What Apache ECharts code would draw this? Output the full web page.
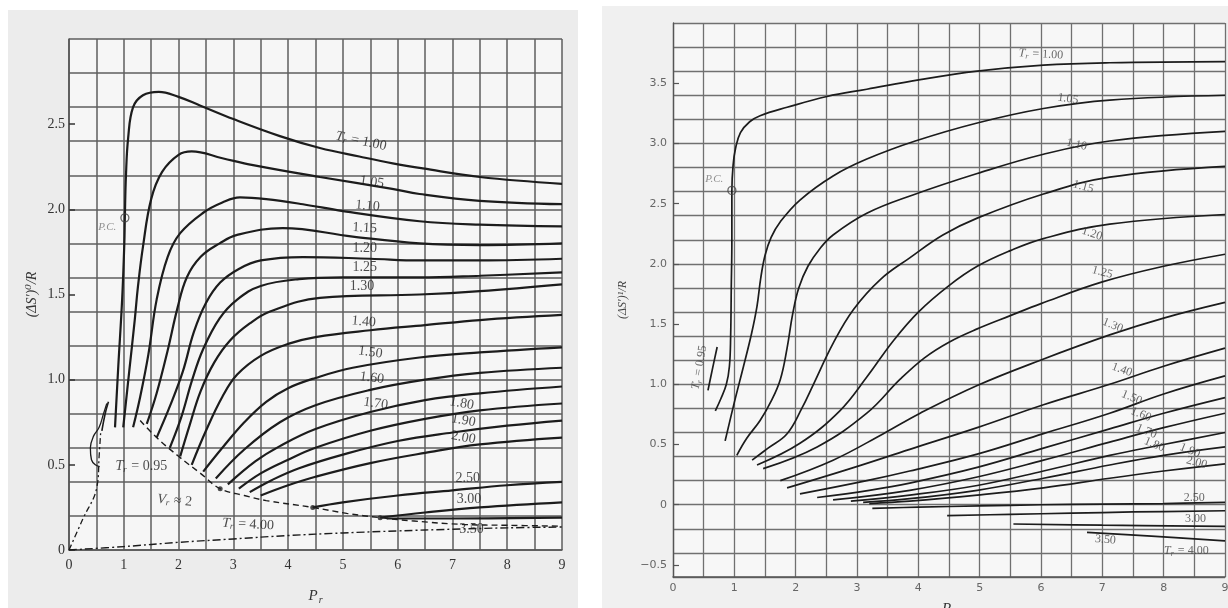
<!DOCTYPE html>
<html>
<head>
<meta charset="utf-8">
<script src="https://cdn.jsdelivr.net/npm/echarts@6/dist/echarts.min.js"></script>
<style>
  html, body { margin: 0; padding: 0; background: #fff; }
  #chart { width: 1228px; height: 608px; }
</style>
</head>
<body>
<div id="chart"></div>
<script>
// ---- left panel: (dS')0/R vs Pr, one array per reduced temperature ----
var l100 = [[0.84,0.72],[0.9,1.08],[0.97,1.47],[1.01,1.8],[1.02,1.96],[1.04,2.2],[1.08,2.42],[1.17,2.6],[1.35,2.67],[1.64,2.69],[2.0,2.66],[2.39,2.61],[3.0,2.53],[3.85,2.43],[4.58,2.36],[5.3,2.31],[5.91,2.27],[6.46,2.24],[7.5,2.19],[9,2.15]];
var l105 = [[0.99,0.72],[1.1,1.05],[1.2,1.35],[1.26,1.55],[1.35,1.78],[1.5,2.06],[1.7,2.22],[2.0,2.32],[2.24,2.34],[2.8,2.3],[3.36,2.26],[4.58,2.19],[5.9,2.12],[6.4,2.09],[7.5,2.05],[9,2.03]];
var l110 = [[1.17,0.72],[1.3,0.9],[1.45,1.15],[1.6,1.47],[1.8,1.72],[2.03,1.86],[2.45,1.98],[2.8,2.04],[3.12,2.07],[3.6,2.06],[4.27,2.03],[5,1.99],[6.4,1.93],[7.5,1.91],[9,1.9]];
var l115 = [[1.42,0.74],[1.6,0.92],[1.8,1.17],[1.98,1.42],[2.15,1.6],[2.4,1.72],[2.75,1.8],[3.07,1.85],[3.9,1.89],[5.18,1.84],[6.4,1.8],[7.5,1.79],[9,1.8]];
var l120 = [[1.6,0.66],[1.85,0.85],[2.08,1.05],[2.28,1.28],[2.5,1.45],[2.76,1.57],[3.1,1.65],[3.5,1.7],[4.27,1.72],[5.5,1.71],[6.4,1.7],[7.5,1.7],[9,1.71]];
var l125 = [[1.84,0.6],[2.05,0.78],[2.25,1.0],[2.45,1.18],[2.75,1.36],[3.07,1.47],[3.5,1.55],[4.2,1.59],[5,1.6],[6.4,1.6],[7.5,1.61],[9,1.63]];
var l130 = [[2.03,0.55],[2.2,0.73],[2.4,0.93],[2.65,1.1],[2.94,1.23],[3.3,1.33],[3.67,1.4],[4.58,1.48],[6.4,1.5],[7.5,1.52],[9,1.56]];
var l140 = [[2.24,0.5],[2.5,0.7],[2.8,0.9],[3.07,1.03],[3.5,1.14],[4.0,1.21],[4.5,1.25],[5.5,1.29],[6.5,1.32],[7.5,1.35],[9,1.38]];
var l150 = [[2.45,0.46],[2.8,0.6],[3.2,0.75],[3.6,0.87],[4.0,0.95],[4.5,1.01],[5.18,1.07],[6.4,1.13],[7.5,1.16],[9,1.19]];
var l160 = [[2.68,0.42],[3.2,0.59],[3.85,0.75],[4.5,0.85],[5.5,0.94],[6.5,1.0],[7.5,1.04],[9,1.07]];
var l170 = [[2.9,0.385],[3.4,0.52],[3.85,0.61],[4.5,0.71],[5.5,0.81],[6.5,0.88],[7.5,0.92],[9,0.96]];
var l180 = [[3.1,0.36],[3.5,0.45],[4,0.53],[4.5,0.6],[5.5,0.7],[6.5,0.77],[7.5,0.82],[9,0.86]];
var l190 = [[3.3,0.34],[3.7,0.41],[4.2,0.48],[5,0.56],[6,0.64],[7,0.69],[8,0.73],[9,0.76]];
var l200 = [[3.5,0.32],[4,0.38],[4.5,0.43],[5.5,0.51],[6.5,0.57],[7.5,0.62],[9,0.66]];
var l250 = [[4.45,0.25],[5,0.28],[6,0.32],[7,0.35],[8,0.38],[9,0.4]];
var l300 = [[5.68,0.19],[6.5,0.22],[7.5,0.25],[9,0.28]];
var l350 = [[5.8,0.185],[7,0.185],[9,0.19]];
var l400 = [[0,0],[1,0.02],[2,0.045],[3,0.065],[4,0.085],[5,0.1],[6,0.112],[7,0.122],[8,0.13],[9,0.135]];
var lVr2 = [[1.3,0.76],[1.6,0.66],[2.0,0.55],[2.4,0.45],[2.76,0.36],[3.2,0.32],[3.6,0.29],[4.45,0.25],[5.07,0.215],[5.68,0.19],[6.3,0.17],[7.2,0.15],[8,0.145],[9,0.14]];
var l095 = [[0.6,0.7],[0.66,0.8],[0.72,0.87]];
var l095loop = [[0.69,0.86],[0.63,0.8],[0.55,0.72],[0.45,0.67],[0.39,0.6],[0.41,0.53],[0.48,0.5],[0.56,0.49]];
var l095dash = [[0,0],[0.25,0.18],[0.51,0.37],[0.55,0.55],[0.58,0.7]];

// ---- right panel: (dS')1/R vs Pr ----
var r095 = [[0.57,0.95],[0.64,1.12],[0.72,1.31]];
var r100 = [[0.69,0.78],[0.78,0.88],[0.87,1.0],[0.92,1.15],[0.94,1.4],[0.95,1.8],[0.96,2.2],[0.96,2.61],[0.98,2.82],[1.02,2.96],[1.1,3.09],[1.25,3.18],[1.42,3.23],[1.86,3.3],[2.51,3.39],[3.16,3.45],[4.03,3.53],[4.96,3.6],[6.04,3.65],[7.12,3.67],[9,3.68]];
var r105 = [[0.85,0.53],[1.0,0.85],[1.15,1.15],[1.28,1.42],[1.37,1.65],[1.43,1.88],[1.5,2.07],[1.6,2.22],[1.75,2.35],[2.07,2.53],[2.61,2.73],[3.16,2.87],[3.95,3.02],[4.96,3.17],[6.04,3.29],[7.12,3.36],[9,3.4]];
var r110 = [[1.04,0.41],[1.2,0.55],[1.42,0.7],[1.6,0.86],[1.75,1.04],[1.86,1.3],[1.95,1.58],[2.05,1.8],[2.2,1.98],[2.4,2.13],[2.61,2.24],[3.16,2.42],[3.9,2.57],[4.96,2.75],[6.04,2.91],[7.12,3.02],[9,3.1]];
var r115 = [[1.29,0.37],[1.55,0.47],[1.86,0.59],[2.1,0.8],[2.29,1.0],[2.61,1.34],[2.94,1.62],[3.38,1.87],[3.86,2.05],[4.4,2.24],[4.96,2.38],[6.04,2.58],[7.12,2.72],[9,2.81]];
var r120 = [[1.37,0.33],[2.07,0.51],[2.72,0.78],[3.16,1.06],[3.59,1.36],[4.0,1.6],[4.5,1.82],[4.96,1.98],[5.5,2.11],[6.04,2.21],[7.12,2.33],[9,2.41]];
var r125 = [[1.47,0.3],[2.35,0.48],[3.16,0.76],[3.7,1.04],[4.1,1.22],[4.5,1.35],[4.96,1.46],[5.5,1.57],[6.0,1.67],[7.0,1.85],[8,1.98],[9,2.08]];
var r130 = [[1.75,0.2],[2.61,0.37],[3.43,0.59],[4.03,0.76],[4.96,0.99],[5.99,1.2],[7.12,1.41],[8,1.55],[9,1.68]];
var r140 = [[1.86,0.14],[2.89,0.3],[3.86,0.46],[4.96,0.64],[6.04,0.83],[7.12,1.0],[8,1.15],[9,1.3]];
var r150 = [[2.07,0.09],[3.16,0.2],[3.86,0.28],[4.96,0.42],[6.04,0.59],[7.12,0.76],[8,0.92],[9,1.07]];
var r160 = [[2.35,0.06],[3.2,0.12],[3.86,0.18],[4.96,0.31],[6.04,0.47],[7.12,0.63],[8,0.76],[9,0.89]];
var r170 = [[2.61,0.04],[3.86,0.12],[4.96,0.23],[6.04,0.37],[7.12,0.52],[8,0.64],[9,0.76]];
var r180 = [[2.9,0.03],[3.86,0.08],[4.96,0.16],[6.04,0.28],[7.12,0.41],[8,0.5],[9,0.6]];
var r190 = [[3.1,0.02],[3.86,0.05],[4.96,0.12],[6.04,0.22],[7.12,0.33],[8,0.41],[9,0.48]];
var r200 = [[3.2,0.01],[3.86,0.03],[4.96,0.08],[6.04,0.14],[7.12,0.22],[8,0.28],[9,0.34]];
var r250 = [[3.25,-0.03],[4,-0.02],[5,-0.01],[6,0],[7,0.005],[8,0.01],[9,0.02]];
var r300 = [[4.47,-0.09],[5.5,-0.08],[6.5,-0.07],[7.5,-0.06],[9,-0.05]];
var r350 = [[5.55,-0.16],[7,-0.17],[9,-0.18]];
var r400 = [[6.75,-0.23],[7.8,-0.26],[9,-0.3]];

// critical points and marked dots
var leftPC = [[1.02,1.95]];
var rightPC = [[0.96,2.61]];
var leftDots = [[2.76,0.36],[4.45,0.25],[5.68,0.19]];

// tick labels
var xTicks = [0,1,2,3,4,5,6,7,8,9];
var leftYTicks = [0,0.5,1.0,1.5,2.0,2.5];
var rightYTicks = [-0.5,0,0.5,1.0,1.5,2.0,2.5,3.0,3.5];

// curve annotations: [Pr, value, text, angle]
var T = '{i|T}{s|r} = ';
var leftNotes = [
  [5.33,2.4,T+'1.00',-12],[5.53,2.16,'1.05',-8],[5.45,2.02,'1.10',-5],[5.4,1.89,'1.15',-3],
  [5.4,1.77,'1.20',0],[5.4,1.66,'1.25',0],[5.35,1.55,'1.30',0],[5.38,1.34,'1.40',-5],
  [5.5,1.16,'1.50',-8],[5.53,1.01,'1.60',-8],[5.6,0.86,'1.70',-8],
  [7.17,0.86,'1.80',-10],[7.2,0.76,'1.90',-10],[7.2,0.66,'2.00',-10],
  [7.28,0.42,'2.50',0],[7.3,0.3,'3.00',0],[7.35,0.12,'3.50',0],
  [3.27,0.15,T+'4.00',-3],[1.32,0.49,T+'0.95',0],[1.93,0.29,'{i|V}{s|r} ≈ 2',-5]
];
var rightNotes = [
  [6.0,3.74,T+'1.00',-3],[6.44,3.37,'1.05',-8],[6.58,2.99,'1.10',-12],[6.69,2.64,'1.15',-15],
  [6.83,2.25,'1.20',-18],[7.0,1.93,'1.25',-15],[7.17,1.49,'1.30',-22],[7.32,1.12,'1.40',-20],
  [7.48,0.89,'1.50',-22],[7.63,0.75,'1.60',-22],[7.72,0.61,'1.70',-22],[7.85,0.5,'1.80',-22],
  [8.43,0.45,'1.90',-22],[8.54,0.35,'2.00',-15],[8.5,0.06,'2.50',0],[8.52,-0.12,'3.00',0],
  [7.05,-0.29,'3.50',-5],[8.37,-0.38,T+'4.00',0],[0.43,1.14,T+'0.95',80]
];

var chart = echarts.init(document.getElementById('chart'));

var serif = "'Liberation Serif', 'DejaVu Serif', serif";
var ink = '#1c1c1c';

function curve(data, side, style) {
  return {
    type: 'line', data: data, silent: true, showSymbol: false, smooth: 0.4, z: 3,
    xAxisIndex: side, yAxisIndex: side * 2,
    lineStyle: Object.assign({ color: ink, width: side ? 1.7 : 2.2 }, style || {})
  };
}

function notes(list, side) {
  var c = side ? '#444' : '#222';
  var fs = side ? 12 : 14;
  return {
    type: 'scatter', silent: true, symbolSize: 0, z: 6,
    xAxisIndex: side, yAxisIndex: side * 2,
    data: list.map(function (n) {
      return { name: n[2], value: [n[0], n[1]], label: { rotate: n[3] } };
    }),
    label: {
      show: true, position: 'inside', formatter: function (p) { return p.name; },
      fontFamily: serif, fontSize: fs, color: c,
      rich: {
        i: { fontFamily: serif, fontStyle: 'italic', fontSize: fs, color: c },
        s: { fontFamily: serif, fontStyle: 'italic', fontSize: side ? 8 : 9, color: c, padding: [6, 1, 0, 0] }
      }
    }
  };
}

function pcMark(data, side, text) {
  return {
    type: 'scatter', silent: true, symbol: 'circle', symbolSize: 8, z: 5,
    xAxisIndex: side, yAxisIndex: side * 2, data: data,
    itemStyle: { color: 'rgba(0,0,0,0)', borderColor: '#444', borderWidth: 1.3 },
    label: {
      show: true, formatter: text, position: side ? [-22, -12] : [-22, 8],
      fontFamily: serif, fontStyle: 'italic', fontSize: 11, color: '#777'
    }
  };
}

function gridAxisX(gi, labelColor, fs, font) {
  return {
    type: 'value', gridIndex: gi, min: 0, max: 9, interval: 0.5,
    axisLine: { show: true, onZero: false, lineStyle: { color: '#555', width: 1.5 } },
    axisTick: { show: false },
    splitLine: { show: true, lineStyle: { color: gi ? '#707070' : '#5e5e5e', width: gi ? 1.3 : 1.5 } },
    axisLabel: {
      customValues: xTicks, margin: gi ? 6 : 8,
      color: labelColor, fontSize: fs, fontFamily: font,
      formatter: function (v) { return String(Math.round(v)); }
    },
    name: '{p|P}{s|r}', nameLocation: 'middle', nameGap: gi ? 24 : 38,
    nameTextStyle: {
      rich: {
        p: { fontFamily: serif, fontStyle: 'italic', fontSize: 15, color: '#333' },
        s: { fontFamily: serif, fontStyle: 'italic', fontSize: 10, color: '#333', padding: [7, 0, 0, 1] }
      }
    }
  };
}

var option = {
  animation: false,
  backgroundColor: '#ffffff',
  graphic: [
    { type: 'rect', z: -100, silent: true, shape: { x: 8, y: 10, width: 570, height: 598 }, style: { fill: '#ececec' } },
    { type: 'rect', z: -100, silent: true, shape: { x: 602, y: 6, width: 626, height: 602 }, style: { fill: '#f0f0f0' } }
  ],
  grid: [
    { left: 69, top: 39, width: 493, height: 511, show: true, backgroundColor: '#f6f6f6', borderWidth: 0, outerBoundsMode: 'none' },
    { left: 673, top: 23, width: 552, height: 554, show: true, backgroundColor: '#f7f7f7', borderWidth: 0, outerBoundsMode: 'none' }
  ],
  xAxis: [
    gridAxisX(0, '#333', 14, serif),
    gridAxisX(1, '#666', 11, "'DejaVu Sans', sans-serif")
  ],
  yAxis: [
    { type: 'value', gridIndex: 0, min: 0, max: 3, interval: 0.2,
      axisLine: { show: true, lineStyle: { color: '#555', width: 1.5 } },
      axisTick: { show: false }, axisLabel: { show: false },
      splitLine: { show: true, lineStyle: { color: '#5e5e5e', width: 1.5 } } },
    { type: 'value', gridIndex: 0, min: 0, max: 3, position: 'left',
      axisLine: { show: false }, splitLine: { show: false },
      axisTick: { show: true, inside: true, length: 6, customValues: leftYTicks, lineStyle: { color: '#333', width: 1.5 } },
      axisLabel: { customValues: leftYTicks, margin: 4, color: '#333', fontSize: 14, fontFamily: serif,
        formatter: function (v) { return v === 0 ? '0' : v.toFixed(1); } },
      name: "(ΔS′)⁰/R", nameLocation: 'middle', nameGap: 30, nameRotate: 90,
      nameTextStyle: { fontFamily: serif, fontStyle: 'italic', fontSize: 14, color: '#333' } },
    { type: 'value', gridIndex: 1, min: -0.6, max: 4, interval: 0.2,
      axisLine: { show: true, lineStyle: { color: '#555', width: 1.3 } },
      axisTick: { show: false }, axisLabel: { show: false },
      splitLine: { show: true, lineStyle: { color: '#707070', width: 1.3 } } },
    { type: 'value', gridIndex: 1, min: -0.6, max: 4, position: 'left',
      axisLine: { show: false }, splitLine: { show: false },
      axisTick: { show: true, inside: true, length: 6, customValues: rightYTicks, lineStyle: { color: '#555', width: 1.2 } },
      axisLabel: { customValues: rightYTicks, margin: 6, color: '#666', fontSize: 11, fontFamily: "'DejaVu Sans', sans-serif",
        formatter: function (v) { return v === 0 ? '0' : v.toFixed(1).replace('-', '−'); } },
      name: "(ΔS′)¹/R", nameLocation: 'middle', nameGap: 44, nameRotate: 90,
      nameTextStyle: { fontFamily: serif, fontStyle: 'italic', fontSize: 12, color: '#444' } }
  ],
  series: [
    curve(l100, 0), curve(l105, 0), curve(l110, 0), curve(l115, 0), curve(l120, 0),
    curve(l125, 0), curve(l130, 0), curve(l140, 0), curve(l150, 0), curve(l160, 0),
    curve(l170, 0), curve(l180, 0), curve(l190, 0), curve(l200, 0), curve(l250, 0),
    curve(l300, 0), curve(l350, 0),
    curve(l400, 0, { width: 1.4, type: [8, 3, 2, 3] }),
    curve(lVr2, 0, { width: 1.4, type: [6, 4] }),
    curve(l095, 0, { width: 1.6 }),
    curve(l095loop, 0, { width: 1.3 }),
    curve(l095dash, 0, { width: 1.3, type: [6, 3, 2, 3] }),
    curve(r095, 1), curve(r100, 1), curve(r105, 1), curve(r110, 1), curve(r115, 1),
    curve(r120, 1), curve(r125, 1), curve(r130, 1), curve(r140, 1), curve(r150, 1),
    curve(r160, 1), curve(r170, 1), curve(r180, 1), curve(r190, 1), curve(r200, 1),
    curve(r250, 1), curve(r300, 1), curve(r350, 1), curve(r400, 1),
    pcMark(leftPC, 0, 'P.C.'),
    pcMark(rightPC, 1, 'P.C.'),
    { type: 'scatter', silent: true, symbolSize: 5, z: 5, xAxisIndex: 0, yAxisIndex: 0,
      data: leftDots, itemStyle: { color: '#222' } },
    notes(leftNotes, 0),
    notes(rightNotes, 1)
  ]
};

chart.setOption(option);
</script>
</body>
</html>
